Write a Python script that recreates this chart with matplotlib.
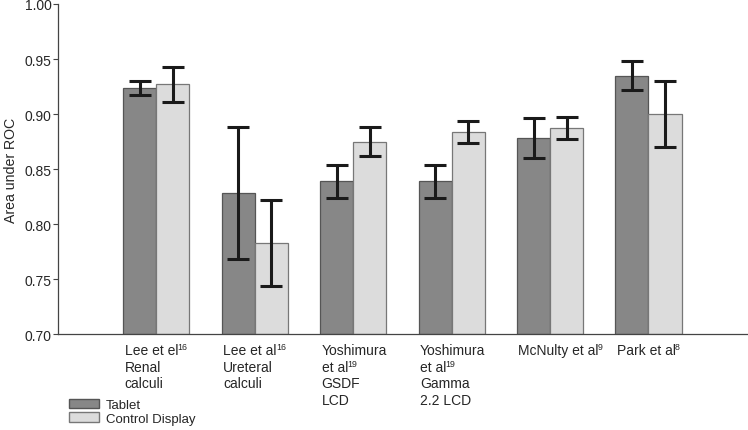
import numpy as np
import matplotlib
matplotlib.use("Agg")
import matplotlib.pyplot as plt
from matplotlib.patches import Patch

plt.rcParams['font.family'] = ['Liberation Sans', 'DejaVu Sans']

# one list of (text, superscript) lines per study
studies = [[("Lee et el", "16"), ("Renal", ""), ("calculi", "")],
           [("Lee et al", "16"), ("Ureteral", ""), ("calculi", "")],
           [("Yoshimura", ""), ("et al", "19"), ("GSDF", ""), ("LCD", "")],
           [("Yoshimura", ""), ("et al", "19"), ("Gamma", ""), ("2.2 LCD", "")],
           [("McNulty et al", "9")],
           [("Park et al", "8")]]

tablet = [0.924, 0.828, 0.839, 0.839, 0.878, 0.935]
tablet_lo = [0.917, 0.768, 0.824, 0.824, 0.860, 0.922]
tablet_hi = [0.930, 0.888, 0.854, 0.854, 0.896, 0.948]

control = [0.927, 0.783, 0.875, 0.884, 0.887, 0.900]
control_lo = [0.911, 0.744, 0.862, 0.874, 0.877, 0.870]
control_hi = [0.943, 0.822, 0.888, 0.894, 0.897, 0.930]

x = np.arange(len(studies))
w = 0.336
txt = '#262626'

fig = plt.figure(figsize=(7.48, 4.31), dpi=100)
ax = fig.add_axes([0.0775, 0.2227, 0.921, 0.7657])

t = np.array(tablet)
c = np.array(control)
ax.bar(x - w / 2, t - 0.7, w, bottom=0.7, color='#878787', edgecolor='#555555', linewidth=0.9, zorder=2)
ax.bar(x + w / 2, c - 0.7, w, bottom=0.7, color='#dcdcdc', edgecolor='#777777', linewidth=0.9, zorder=2)

ax.errorbar(x - w / 2, t, yerr=[t - np.array(tablet_lo), np.array(tablet_hi) - t],
            fmt='none', ecolor='#1a1a1a', elinewidth=2.2, capsize=7.8, capthick=2.2, zorder=3)
ax.errorbar(x + w / 2, c, yerr=[c - np.array(control_lo), np.array(control_hi) - c],
            fmt='none', ecolor='#1a1a1a', elinewidth=2.2, capsize=7.8, capthick=2.2, zorder=3)

ax.set_xlim(-1, 6)
ax.set_ylim(0.70, 1.00)
ax.set_yticks([0.70, 0.75, 0.80, 0.85, 0.90, 0.95, 1.00])
ax.set_yticklabels(["%.2f" % v for v in ax.get_yticks()], fontsize=10, color=txt)
ax.set_xticks([])
ax.tick_params(axis='y', direction='out', length=3.6, width=0.8, color='#444444', pad=1)
ax.set_ylabel("Area under ROC", fontsize=10.2, color=txt, labelpad=5)

# category labels, one text per line, left aligned at the group's left edge
for i, lines in enumerate(studies):
    for j, (line, sup) in enumerate(lines):
        main = ax.annotate(line, xy=(x[i] - w, 0), xycoords=('data', 'axes fraction'),
                           xytext=(1, -14.4 - 11.9 * j), textcoords='offset points',
                           ha='left', va='baseline', fontsize=10, color=txt)
        if sup:
            ax.annotate(sup, xy=(1, 0), xycoords=main, xytext=(-0.6, 5.6),
                        textcoords='offset points', ha='left', va='baseline',
                        fontsize=6.3, color=txt)

for s in ['top', 'right']:
    ax.spines[s].set_visible(False)
for s in ['left', 'bottom']:
    ax.spines[s].set_color('#444444')
    ax.spines[s].set_linewidth(0.9)

handles = [Patch(facecolor='#878787', edgecolor='#555555', label='Tablet'),
           Patch(facecolor='#dcdcdc', edgecolor='#777777', label='Control Display')]
fig.legend(handles=handles, loc='upper left', bbox_to_anchor=(69 / 748, 1 - 400 / 431), frameon=False,
           fontsize=9.5, handlelength=2.27, handleheight=0.68, handletextpad=0.55,
           labelspacing=0.1, borderpad=0, borderaxespad=0, labelcolor=txt)

fig.savefig("out.png", dpi=100)
